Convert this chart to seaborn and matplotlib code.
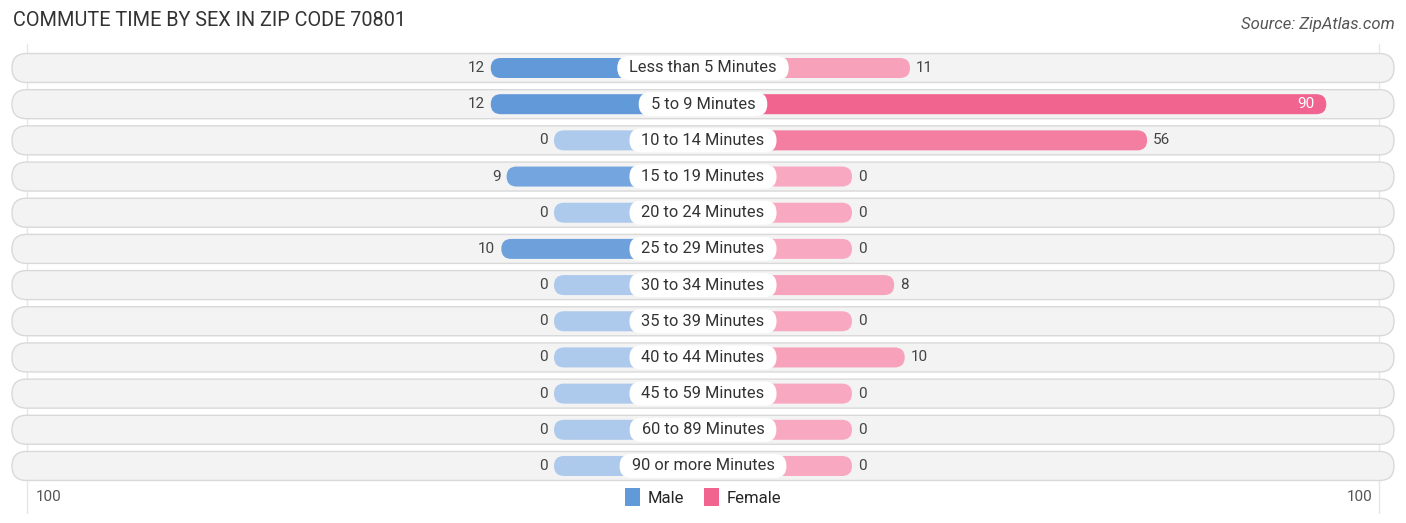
import numpy as np
import pandas as pd
import matplotlib
matplotlib.use("Agg")
import matplotlib.pyplot as plt
from matplotlib.patches import FancyBboxPatch, Patch
from matplotlib.colors import to_rgb
import seaborn as sns

# data
categories = ["Less than 5 Minutes", "5 to 9 Minutes", "10 to 14 Minutes",
              "15 to 19 Minutes", "20 to 24 Minutes", "25 to 29 Minutes",
              "30 to 34 Minutes", "35 to 39 Minutes", "40 to 44 Minutes",
              "45 to 59 Minutes", "60 to 89 Minutes", "90 or more Minutes"]
male = [12, 12, 0, 9, 0, 10, 0, 0, 0, 0, 0, 0]
female = [11, 90, 56, 0, 0, 0, 8, 0, 10, 0, 0, 0]
axis_max = 100

sns.set_theme(style="white")
plt.rcParams["font.family"] = ["Roboto", "DejaVu Sans"]

W, H = 1406, 523
fig = plt.figure(figsize=(W / 100, H / 100), dpi=100)
ax = fig.add_axes([0, 0, 1, 1])

px = 5.27            # pixels per value unit
stub = 149 / px      # minimum bar length (under the label pill)
row_px = 36.18
y_top = 68

df = pd.DataFrame({"cat": categories, "male": male, "female": female})
df["m_len"] = -(stub + df["male"])
df["f_len"] = stub + df["female"]


def shade(light, strong, frac):
    a, b = np.array(to_rgb(light)), np.array(to_rgb(strong))
    return tuple(a + (b - a) * frac)


m_cols = [shade("#adc9ec", "#6199d9", v / max(male)) for v in male]
f_cols = [shade("#f8a9c1", "#f0648f", v / max(female)) for v in female]

bar_h = 20 / row_px
sns.barplot(data=df, x="m_len", y="cat", hue="cat", palette=m_cols,
            legend=False, orient="h", width=bar_h, ax=ax, saturation=1)
sns.barplot(data=df, x="f_len", y="cat", hue="cat", palette=f_cols,
            legend=False, orient="h", width=bar_h, ax=ax, saturation=1)

aspect = (1 / row_px) / (1 / px)

# replace rectangles with rounded bars
for p in list(ax.patches):
    x0, y0, w, h = p.get_x(), p.get_y(), p.get_width(), p.get_height()
    if w < 0:
        x0, w = x0 + w, -w
    rb = FancyBboxPatch((x0, y0), w, h,
                        boxstyle=f"round,pad=0,rounding_size={10 / px}",
                        mutation_aspect=aspect, fc=p.get_facecolor(),
                        ec="none", zorder=2)
    p.remove()
    ax.add_patch(rb)

# row backgrounds
left_edge = -(W / 2 - 12) / px
bg_h = 29 / row_px
for i in range(len(categories)):
    bg = FancyBboxPatch((left_edge, i - bg_h / 2), -2 * left_edge, bg_h,
                        boxstyle=f"round,pad=0,rounding_size={14.5 / px}",
                        mutation_aspect=aspect, fc="#f3f3f3",
                        ec="#d9d9d9", lw=1.0, zorder=0)
    ax.add_patch(bg)

# grid lines at +/- 100
for s in (-1, 1):
    ax.plot([s * (stub + axis_max)] * 2, [-0.65, len(categories) + 0.3],
            color="#e6e6e6", lw=1, zorder=-1)

ax.set_xlim(-W / 2 / px, W / 2 / px)
ax.set_ylim((H - y_top) / row_px, -y_top / row_px)
ax.axis("off")

# category labels with white pills sized from the text
labels = [ax.text(0, i, c, ha="center", va="center", fontsize=11.8,
                  color="#333333", zorder=4)
          for i, c in enumerate(categories)]
fig.canvas.draw()
pill_h = 24 / row_px
for i, t in enumerate(labels):
    tw = t.get_window_extent().width / px
    pw = tw + 24 / px
    pill = FancyBboxPatch((-pw / 2, i - pill_h / 2), pw, pill_h,
                          boxstyle=f"round,pad=0,rounding_size={12 / px}",
                          mutation_aspect=aspect, fc="white", ec="none",
                          zorder=3)
    ax.add_patch(pill)

# value labels
for i, (m, f) in enumerate(zip(male, female)):
    ax.text(-(stub + m) - 6 / px, i, str(m), ha="right", va="center",
            fontsize=11, color="#444444", zorder=4)
    if f > 70:
        ax.text(stub + f - 12 / px, i, str(f), ha="right", va="center",
                fontsize=11, color="white", zorder=4)
    else:
        ax.text(stub + f + 6 / px, i, str(f), ha="left", va="center",
                fontsize=11, color="#444444", zorder=4)

# axis end labels
ylab = (497 - y_top) / row_px
ax.text(-(stub + axis_max) + 9 / px, ylab, "100", ha="left", va="center",
        fontsize=11, color="#555555")
ax.text(stub + axis_max - 7 / px, ylab, "100", ha="right", va="center",
        fontsize=11, color="#555555")

handles = [Patch(fc="#6199d9", ec="none", label="Male"),
           Patch(fc="#f0648f", ec="none", label="Female")]
fig.legend(handles=handles, loc="center", bbox_to_anchor=(0.5, 1 - 497 / H),
           ncol=2, frameon=False, fontsize=12, handlelength=0.9,
           handleheight=1.2, handletextpad=0.45, columnspacing=1.2)

fig.text(13 / W, 1 - 21 / H, "COMMUTE TIME BY SEX IN ZIP CODE 70801",
         ha="left", va="center", fontsize=14.3, color="#333333")
fig.text(1 - 11 / W, 1 - 25 / H, "Source: ZipAtlas.com", ha="right",
         va="center", fontsize=12, color="#555555", style="italic")

fig.savefig("out.png", dpi=100)
